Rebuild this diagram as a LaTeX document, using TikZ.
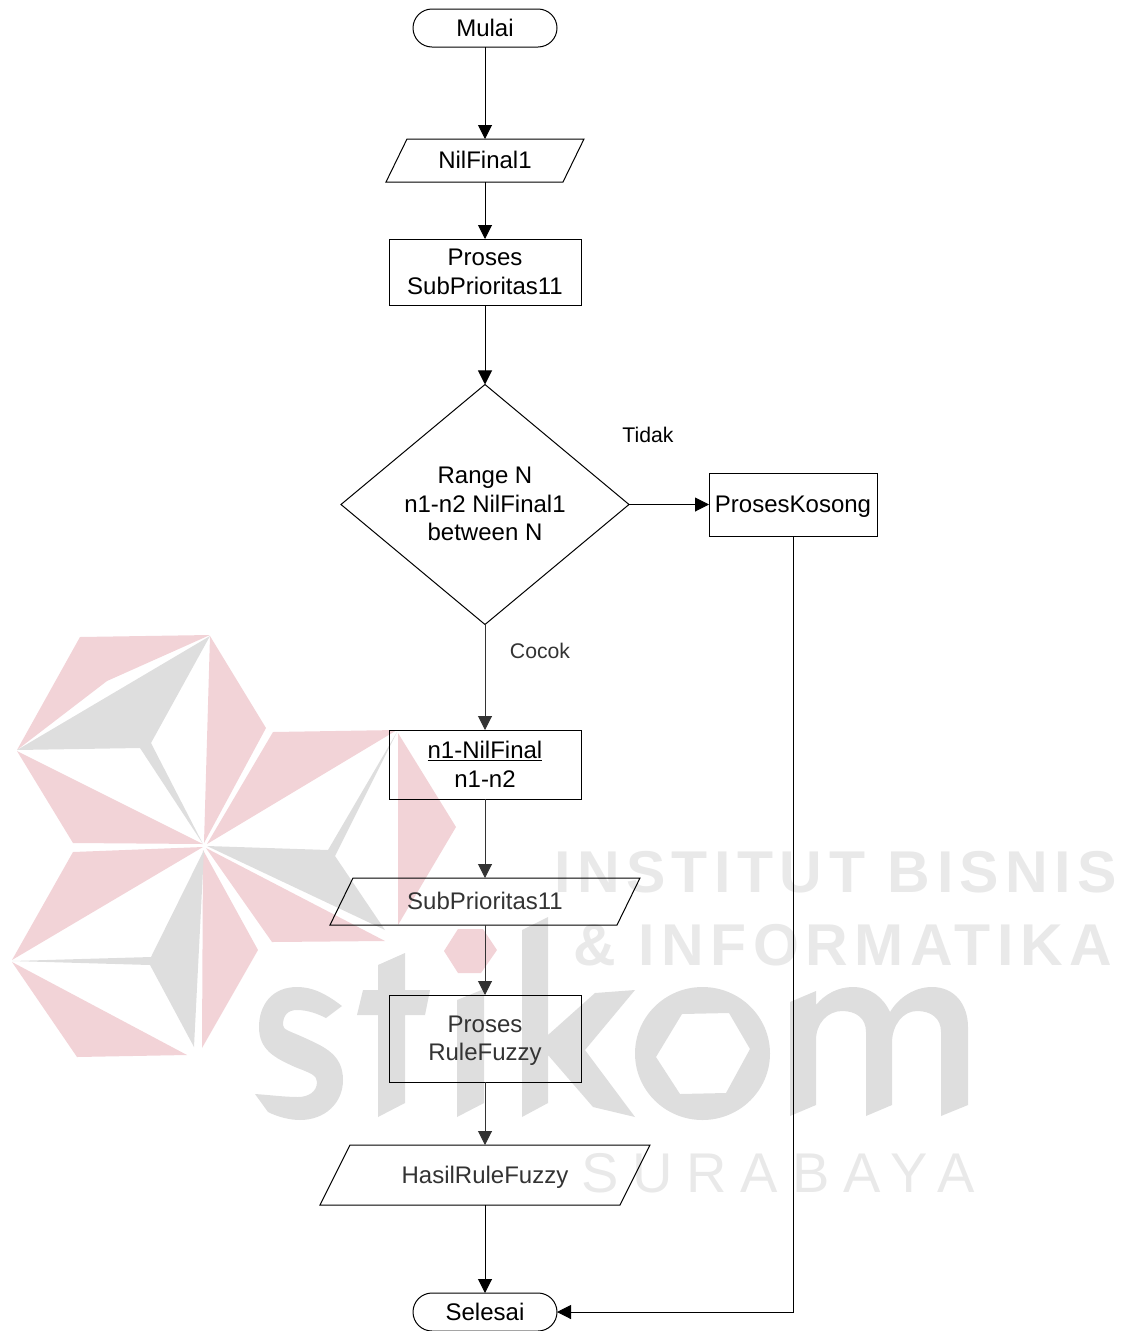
\documentclass[tikz,border=0pt]{standalone}
\usepackage{fontspec}
\setmainfont{Liberation Sans}
\newfontfamily\wmbold[LetterSpace=11]{Liberation Sans Bold}
\newfontfamily\wmreg[LetterSpace=24.7]{Liberation Sans}
\usetikzlibrary{shapes.geometric,shapes.misc,arrows.meta}
\definecolor{wmpink}{HTML}{F2D3D7}
\definecolor{wmgray}{HTML}{DEDEDE}
\definecolor{wmtext}{HTML}{E9E9E9}
\definecolor{darkpart}{HTML}{333333}
\newcommand{\nudge}[2]{\raisebox{#1}[\height][0pt]{#2}}
\tikzset{
  base/.style={inner sep=0pt,outer sep=0pt,align=center,font=\fontsize{24}{28.5}\selectfont,line width=1pt},
  pill/.style={base,draw,rounded rectangle,minimum width=144pt,minimum height=38pt},
  procbox/.style={base,draw,rectangle},
  iotext/.style={base,rectangle},
  ioframe/.style={line width=1pt},
  decide/.style={base,draw,diamond,minimum width=288pt,minimum height=240pt,shape aspect=1.2},
  lbl/.style={inner sep=0pt,font=\fontsize{21.2}{25}\selectfont},
  flow/.style={line width=1pt,-{Triangle[length=14pt,width=14pt]}},
  wmlabel/.style={inner sep=0pt,anchor=base west,text=wmtext},
  pinkpart/.style={fill=wmpink,draw=none},
  graypart/.style={fill=wmgray,draw=none}
}
\begin{document}
\begin{tikzpicture}[x=1pt,y=-1pt]
\path[use as bounding box] (0,0) rectangle (1121,1331);
% watermark emblem
\fill[pinkpart] (80,637) -- (210,635) -- (107,681) -- (17,750) -- cycle;
\fill[pinkpart] (210,636) -- (266,728) -- (204,843) -- cycle;
\fill[pinkpart] (17,751) -- (203,844) -- (73,843) -- cycle;
\fill[pinkpart] (273,732) -- (397,730) -- (207,844) -- cycle;
\fill[pinkpart] (398,733) -- (456,827) -- (398,925) -- cycle;
\fill[pinkpart] (206,848) -- (385,941) -- (272,942) -- cycle;
\fill[pinkpart] (73,852) -- (203,847) -- (12,960) -- cycle;
\fill[pinkpart] (203,850) -- (258,950) -- (202,1048) -- cycle;
\fill[pinkpart] (12,962) -- (187,1055) -- (77,1057) -- cycle;
\fill[pinkpart] (458,929) -- (483,929) -- (497,950) -- (481,973) -- (458,973) -- (444,951) -- cycle;
\fill[graypart] (17,750) -- (210,636) -- (151,743) -- (203,844) -- (140,748) -- cycle;
\fill[graypart] (397,732) -- (328,850) -- (207,846) -- (385,930) -- (335,856) -- cycle;
\fill[graypart] (12,961) -- (151,957) -- (204,850) -- (194,1047) -- (150,965) -- cycle;
% watermark word: s t i k o m
\fill[graypart] (342,1006) .. controls (325,993) and (312,987) .. (297,987)
  .. controls (272,987) and (259,1005) .. (259,1027)
  .. controls (259,1050) and (275,1058) .. (295,1067)
  .. controls (310,1073) and (317,1075) .. (317,1082)
  .. controls (317,1092) and (308,1097) .. (298,1097)
  .. controls (285,1097) and (270,1095) .. (255,1094)
  -- (268,1112) .. controls (278,1117) and (290,1120) .. (300,1120)
  .. controls (325,1120) and (343,1103) .. (343,1080)
  .. controls (343,1055) and (325,1047) .. (305,1038)
  .. controls (290,1031) and (283,1030) .. (283,1025)
  .. controls (283,1015) and (288,1010) .. (297,1010)
  .. controls (308,1010) and (318,1014) .. (326,1018) -- cycle;
\fill[graypart] (378,965) -- (405,953) -- (405,990) -- (430,990) -- (425,1015) -- (405,1015) -- (405,1103) -- (378,1117) -- (378,1015) -- (357,1015) -- (363,990) -- (378,990) -- cycle;
\fill[graypart] (457,1000) -- (484,989) -- (484,1103) -- (457,1117) -- cycle;
\fill[graypart] (522,930) -- (548,917) -- (548,1035) -- (595,993) -- (635,990) -- (585,1050) -- (635,1117) -- (593,1107) -- (548,1055) -- (548,1103) -- (522,1117) -- cycle;
\fill[graypart,even odd rule] (702.5,1053.5) ellipse [x radius=67.5pt,y radius=66.5pt]
  (682,1014) -- (729,1013) -- (750,1049) -- (726,1093) -- (680,1094) -- (656,1057) -- cycle;
\fill[graypart] (790,1002) -- (816,991) -- (816,1005)
  .. controls (825,994) and (838,987) .. (853,987)
  .. controls (870,987) and (883,997) .. (890,1012)
  .. controls (899,997) and (915,987) .. (932,987)
  .. controls (955,987) and (968,1005) .. (968,1027)
  -- (968,1105) -- (941,1116) -- (941,1032)
  .. controls (941,1018) and (931,1011) .. (917,1011)
  .. controls (903,1011) and (892,1025) .. (892,1043)
  -- (892,1105) -- (866,1116) -- (866,1032)
  .. controls (866,1018) and (856,1011) .. (842,1011)
  .. controls (828,1011) and (816,1023) .. (816,1040)
  -- (816,1105) -- (790,1116) -- cycle;
\node[wmlabel,font=\fontsize{59}{62}\wmbold\selectfont] (wma) at (554,892) {INSTITUT BISNIS};
\node[wmlabel,font=\fontsize{59}{62}\wmbold\selectfont] (wmb) at (573,965) {\& INFORMATIKA};
\node[wmlabel,font=\fontsize{56}{60}\wmreg\selectfont] (wmc) at (581,1192) {SURABAYA};
% flowchart nodes
\node[pill] (start) at (485,28) {Mulai};
\node[iotext,minimum height=43pt] (nil) at (485,160.5) {\nudge{1pt}{NilFinal1}};
\draw[ioframe] ([xshift=-78pt]nil.north) -- ([xshift=99pt]nil.north) -- ([xshift=78pt]nil.south) -- ([xshift=-99pt]nil.south) -- cycle;
\node[procbox,minimum width=192pt,minimum height=66pt] (sub) at (485,272) {Proses\\SubPrioritas11};
\node[decide] (range) at (485,504.5) {\nudge{0.5pt}{Range N}\\\nudge{0.5pt}{n1-n2 NilFinal1}\\\nudge{0.5pt}{between N}};
\node[procbox,minimum width=168pt,minimum height=63pt] (kosong) at (793,504.5) {\nudge{0pt}{ProsesKosong}};
\node[procbox,minimum width=192pt,minimum height=69pt] (calc) at (485,764.5) {\underline{n1-NilFinal}\\n1-n2};
\node[iotext,text=darkpart,minimum height=47pt] (prio) at (485,901.5) {\nudge{1pt}{SubPrioritas11}};
\draw[ioframe] ([xshift=-132pt]prio.north) -- ([xshift=155pt]prio.north) -- ([xshift=132pt]prio.south) -- ([xshift=-155pt]prio.south) -- cycle;
\node[procbox,text=darkpart,minimum width=192pt,minimum height=87pt] (rule) at (485,1038.5) {Proses\\\nudge{0.5pt}{RuleFuzzy}};
\node[iotext,text=darkpart,minimum height=60pt] (hasil) at (485,1175) {\nudge{0pt}{HasilRuleFuzzy}};
\draw[ioframe] ([xshift=-135pt]hasil.north) -- ([xshift=165pt]hasil.north) -- ([xshift=135pt]hasil.south) -- ([xshift=-165pt]hasil.south) -- cycle;
\node[pill] (end) at (485,1312) {Selesai};
\node[lbl] (tidak) at (648,435) {Tidak};
\node[lbl,text=darkpart] (cocok) at (540,651) {Cocok};
% connectors
\draw[flow] (start) -- (nil);
\draw[flow] (nil) -- (sub);
\draw[flow] (sub) -- (range);
\draw[flow] (range) -- (kosong);
\draw[flow,darkpart] (range) -- (calc);
\draw[flow,darkpart] (calc) -- (prio);
\draw[flow,darkpart] (prio) -- (rule);
\draw[flow,darkpart] (rule) -- (hasil);
\draw[flow] (hasil) -- (end);
\draw[flow] (kosong.south) |- (end.east);
\end{tikzpicture}
\end{document}
